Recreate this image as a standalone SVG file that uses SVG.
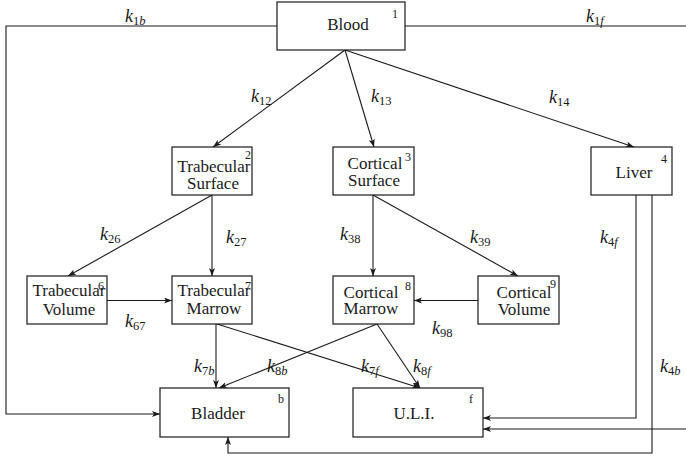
<svg xmlns="http://www.w3.org/2000/svg" width="686" height="457" viewBox="0 0 686 457">
  <style>
    .box { fill: #ffffff; stroke: #1a1a1a; stroke-width: 1.2; }
    .t { font-family: "Liberation Serif", "DejaVu Serif", serif; font-size: 17px; fill: #1a1a1a; text-anchor: middle; }
    .sup { font-family: "Liberation Serif", "DejaVu Serif", serif; font-size: 12px; fill: #1a1a1a; }
    .k { font-family: "Liberation Serif", "DejaVu Serif", serif; font-size: 18px; font-style: italic; fill: #1a1a1a; }
    .sub { font-size: 12.5px; font-style: normal; }
    .subi { font-size: 12.5px; font-style: italic; }
    .edge { fill: none; stroke: #1a1a1a; stroke-width: 1.1; }
    .arr { marker-end: url(#ah); }
  </style>
  <defs>
    <marker id="ah" markerUnits="userSpaceOnUse" markerWidth="10" markerHeight="8" refX="8" refY="3" orient="auto">
      <path d="M0,0 L8,3 L0,6 L2,3 z" fill="#1a1a1a"/>
    </marker>
  </defs>
  <rect width="686" height="457" fill="#ffffff"/>

  <!-- connectors -->
  <g id="connectors">
    <path class="edge arr" d="M277,26 H6 V414 H160"/>
    <path class="edge" d="M405,26 H687"/>
    <path class="edge arr" d="M687,429 H483"/>
    <path class="edge arr" d="M636,195 V418 H483"/>
    <path class="edge arr" d="M652,195 V453 H228 V437"/>
    <path class="edge arr" d="M345,50 L213,147"/>
    <path class="edge arr" d="M345,50 L374,147"/>
    <path class="edge arr" d="M345,50 L634,147"/>
    <path class="edge arr" d="M212,195 L68,276"/>
    <path class="edge arr" d="M212,195 L212,276"/>
    <path class="edge arr" d="M107,300.5 L172,300.5"/>
    <path class="edge arr" d="M373,195 L373,276"/>
    <path class="edge arr" d="M373,195 L518,276"/>
    <path class="edge arr" d="M478,300.5 L414,300.5"/>
    <path class="edge arr" d="M216,324 L216,388"/>
    <path class="edge arr" d="M217,324 L420,388"/>
    <path class="edge arr" d="M377,324 L219,388"/>
    <path class="edge arr" d="M377,324 L420,388"/>
  </g>

  <!-- rate constant labels -->
  <g id="labels">
    <text class="k" x="125" y="22">k<tspan class="sub" dy="3">1</tspan><tspan class="subi">b</tspan></text>
    <text class="k" x="586" y="22">k<tspan class="sub" dy="3">1</tspan><tspan class="subi">f</tspan></text>
    <text class="k" x="251" y="102">k<tspan class="sub" dy="3">12</tspan></text>
    <text class="k" x="371" y="102">k<tspan class="sub" dy="3">13</tspan></text>
    <text class="k" x="549" y="103">k<tspan class="sub" dy="3">14</tspan></text>
    <text class="k" x="100" y="240">k<tspan class="sub" dy="3">26</tspan></text>
    <text class="k" x="226" y="243">k<tspan class="sub" dy="3">27</tspan></text>
    <text class="k" x="340" y="240">k<tspan class="sub" dy="3">38</tspan></text>
    <text class="k" x="470" y="243">k<tspan class="sub" dy="3">39</tspan></text>
    <text class="k" x="600" y="243">k<tspan class="sub" dy="3">4</tspan><tspan class="subi">f</tspan></text>
    <text class="k" x="125" y="327">k<tspan class="sub" dy="3">67</tspan></text>
    <text class="k" x="432" y="334">k<tspan class="sub" dy="3">98</tspan></text>
    <text class="k" x="194" y="372">k<tspan class="sub" dy="3">7</tspan><tspan class="subi">b</tspan></text>
    <text class="k" x="267" y="372">k<tspan class="sub" dy="3">8</tspan><tspan class="subi">b</tspan></text>
    <text class="k" x="361" y="372">k<tspan class="sub" dy="3">7</tspan><tspan class="subi">f</tspan></text>
    <text class="k" x="413" y="372">k<tspan class="sub" dy="3">8</tspan><tspan class="subi">f</tspan></text>
    <text class="k" x="660" y="372">k<tspan class="sub" dy="3">4</tspan><tspan class="subi">b</tspan></text>
  </g>

  <!-- compartments -->
  <g id="blood">
    <rect class="box" x="277" y="2" width="128" height="48"/>
    <text class="t" x="348" y="30">Blood</text>
    <text class="sup" x="392" y="18">1</text>
  </g>
  <g id="trabecular-surface">
    <rect class="box" x="172" y="147" width="80" height="48"/>
    <text class="t" x="214" y="172">Trabecular</text>
    <text class="t" x="213" y="189">Surface</text>
    <text class="sup" x="245" y="159">2</text>
  </g>
  <g id="cortical-surface">
    <rect class="box" x="333" y="147" width="81" height="48"/>
    <text class="t" x="375" y="169">Cortical</text>
    <text class="t" x="374" y="186">Surface</text>
    <text class="sup" x="405" y="161">3</text>
  </g>
  <g id="liver">
    <rect class="box" x="591" y="147" width="81" height="48"/>
    <text class="t" x="634" y="178">Liver</text>
    <text class="sup" x="661" y="163">4</text>
  </g>
  <g id="trabecular-volume">
    <rect class="box" x="27" y="276" width="80" height="48"/>
    <text class="t" x="69" y="296">Trabecular</text>
    <text class="t" x="69" y="315">Volume</text>
    <text class="sup" x="98" y="290">6</text>
  </g>
  <g id="trabecular-marrow">
    <rect class="box" x="172" y="276" width="80" height="48"/>
    <text class="t" x="214" y="296">Trabecular</text>
    <text class="t" x="214" y="314">Marrow</text>
    <text class="sup" x="245" y="290">7</text>
  </g>
  <g id="cortical-marrow">
    <rect class="box" x="333" y="276" width="81" height="48"/>
    <text class="t" x="371" y="298">Cortical</text>
    <text class="t" x="371" y="314">Marrow</text>
    <text class="sup" x="405" y="290">8</text>
  </g>
  <g id="cortical-volume">
    <rect class="box" x="478" y="276" width="81" height="48"/>
    <text class="t" x="524" y="298">Cortical</text>
    <text class="t" x="524" y="315">Volume</text>
    <text class="sup" x="550" y="288">9</text>
  </g>
  <g id="bladder">
    <rect class="box" x="160" y="388" width="129" height="49"/>
    <text class="t" x="218" y="419">Bladder</text>
    <text class="sup" x="278" y="403">b</text>
  </g>
  <g id="uli">
    <rect class="box" x="353" y="388" width="130" height="49"/>
    <text class="t" x="414" y="419">U.L.I.</text>
    <text class="sup" x="469" y="403">f</text>
  </g>
</svg>
